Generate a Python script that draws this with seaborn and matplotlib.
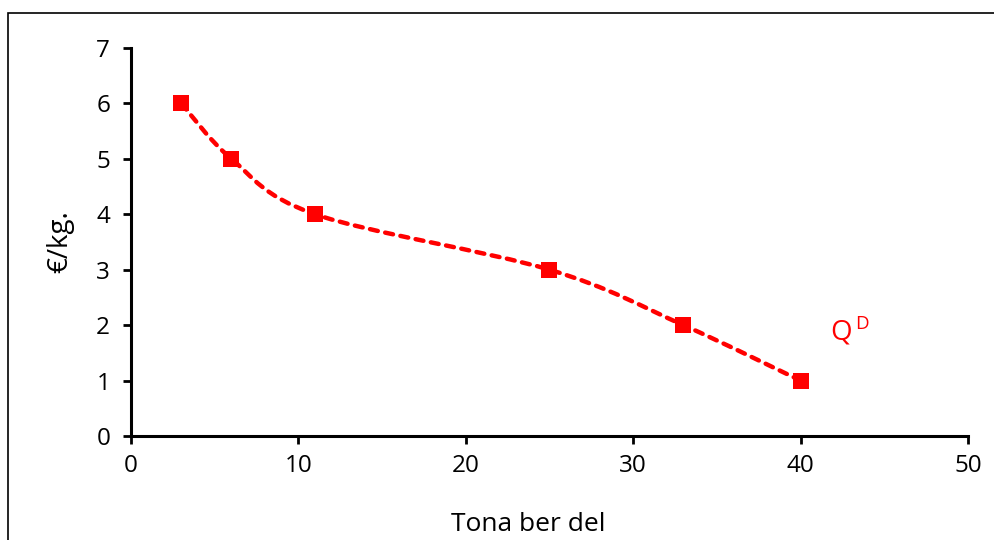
import numpy as np
import matplotlib
matplotlib.use("Agg")
import matplotlib.pyplot as plt
from matplotlib.path import Path
from matplotlib.patches import PathPatch, Rectangle
import seaborn as sns

# data
tonnes = [3, 6, 11, 25, 33, 40]
price = [6, 5, 4, 3, 2, 1]
x_ticks = [0, 10, 20, 30, 40, 50]
y_ticks = [0, 1, 2, 3, 4, 5, 6, 7]
curve_label = "Q"
curve_sup = "D"
x_label = "Tona ber del"
y_label = "€/kg."

RED = "#ff0000"

sns.set_theme(style="white")
plt.rcParams['font.family'] = ['Open Sans', 'DejaVu Sans']
plt.rcParams['text.color'] = 'black'
plt.rcParams['axes.labelcolor'] = 'black'
plt.rcParams['xtick.color'] = 'black'
plt.rcParams['ytick.color'] = 'black'


def smooth_path(xs, ys):
    """Excel-style smoothed line: cubic Bezier through each point pair."""
    pts = np.column_stack([xs, ys]).astype(float)
    n = len(pts)
    verts = [pts[0]]
    codes = [Path.MOVETO]
    for i in range(n - 1):
        p0 = pts[i - 1] if i > 0 else pts[i]
        p1 = pts[i]
        p2 = pts[i + 1]
        p3 = pts[i + 2] if i + 2 < n else pts[i + 1]
        c1 = p1 + (p2 - p0) / 6.0
        c2 = p2 - (p3 - p1) / 6.0
        verts += [c1, c2, p2]
        codes += [Path.CURVE4] * 3
    return Path(verts, codes)


fig = plt.figure(figsize=(9.94, 5.40), dpi=100)
ax = fig.add_axes([0.1318, 0.1926, 0.8420, 0.7185])

# outer chart border (cropped on right/bottom like the source)
fig.patches.append(Rectangle((8 / 994, -0.1), 2.0, 1 - 13 / 540 + 0.1,
                             transform=fig.transFigure, fill=False,
                             edgecolor="black", linewidth=1.2, zorder=0))

patch = PathPatch(smooth_path(tonnes, price), facecolor="none", edgecolor=RED,
                  linewidth=3.2, linestyle=(0, (1.8, 1.7)), capstyle="round",
                  zorder=2)
ax.add_patch(patch)

sns.scatterplot(x=tonnes, y=price, marker="s", s=125, color=RED,
                edgecolor=RED, linewidth=0, ax=ax, zorder=3)

ax.text(41.8, 1.86, curve_label, color=RED, fontsize=20, ha="left", va="center")
ax.annotate(curve_sup, xy=(41.8, 1.86), xytext=(17.5, 6.5), textcoords="offset points",
            color=RED, fontsize=13.5, ha="left", va="center")

ax.set_xlim(0, 50)
ax.set_ylim(0, 7)
ax.set_xticks(x_ticks)
ax.set_yticks(y_ticks)
ax.tick_params(axis="both", direction="out", length=6, width=2, color="black",
               labelsize=17.5, pad=7, bottom=True, left=True)
ax.tick_params(axis="y", pad=9)

for side in ["top", "right"]:
    ax.spines[side].set_visible(False)
for side in ["left", "bottom"]:
    ax.spines[side].set_color("black")
    ax.spines[side].set_linewidth(2.2)

ax.set_xlabel(x_label, fontsize=19, labelpad=26)
ax.xaxis.set_label_coords(0.475, -0.195, transform=ax.transAxes)
ax.set_ylabel(y_label, fontsize=20, labelpad=16)

fig.savefig("out.png", dpi=100)
